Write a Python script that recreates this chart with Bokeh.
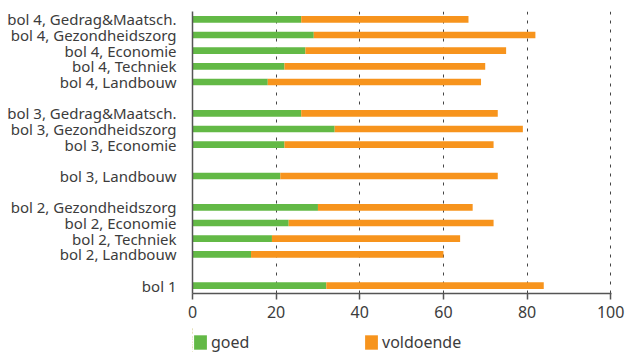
from bokeh.plotting import figure
from bokeh.models import ColumnDataSource, FactorRange, Range1d, FixedTicker, Legend, LegendItem
from bokeh.layouts import column
from bokeh.embed import file_html
from bokeh.resources import INLINE

# categories from top to bottom ("" = empty slot)
categories = [
    "bol 4, Gedrag&Maatsch.", "bol 4, Gezondheidszorg", "bol 4, Economie",
    "bol 4, Techniek", "bol 4, Landbouw", "",
    "bol 3, Gedrag&Maatsch.", "bol 3, Gezondheidszorg", "bol 3, Economie",
    "", "bol 3, Landbouw", "",
    "bol 2, Gezondheidszorg", "bol 2, Economie", "bol 2, Techniek",
    "bol 2, Landbouw", "", "bol 1",
]
goed = [26, 29, 27, 22, 18, None, 26, 34, 22, None, 21, None, 30, 23, 19, 14, None, 32]
voldoende = [40, 53, 48, 48, 51, None, 47, 45, 50, None, 52, None, 37, 49, 45, 46, None, 52]
series = ["goed", "voldoende"]
x_ticks = [0, 20, 40, 60, 80, 100]

GREEN = "#63b946"
ORANGE = "#f7941d"
TEXT = "#3c3c3c"
FONT = "Noto Sans"

# unique factor names (blank slots become strings of spaces)
factors = []
blank = 0
for c in categories:
    if c == "":
        blank += 1
        factors.append(" " * blank)
    else:
        factors.append(c)

rows = [i for i, g in enumerate(goed) if g is not None]
source = ColumnDataSource(dict(
    cat=[factors[i] for i in rows],
    goed=[goed[i] for i in rows],
    voldoende=[voldoende[i] for i in rows],
))

p = figure(
    width=628, height=327,
    y_range=FactorRange(factors=list(reversed(factors))),
    x_range=Range1d(0, 100.2),
    output_backend="svg", toolbar_location=None,
    min_border_left=192, min_border_right=17, min_border_top=11, min_border_bottom=34,
)
p.outline_line_color = None
p.background_fill_color = "white"
p.border_fill_color = "white"

rs = p.hbar_stack(series, y="cat", height=0.43,
                  color=[GREEN, ORANGE], line_color=None, source=source)

# axes
p.xaxis.ticker = FixedTicker(ticks=x_ticks)
p.xaxis.axis_line_color = "#555555"
p.xaxis.axis_line_width = 1.5
p.xaxis.major_tick_line_color = "#555555"
p.xaxis.major_tick_line_width = 1.5
p.xaxis.major_tick_out = 6
p.xaxis.major_tick_in = 0
p.xaxis.minor_tick_line_color = None
p.xaxis.major_label_text_font = FONT
p.xaxis.major_label_text_font_size = "16px"
p.xaxis.major_label_text_color = TEXT
p.xaxis.major_label_standoff = 6

p.yaxis.axis_line_color = "#555555"
p.yaxis.axis_line_width = 1.5
p.yaxis.major_tick_line_color = None
p.yaxis.minor_tick_line_color = None
p.yaxis.major_label_text_font = FONT
p.yaxis.major_label_text_font_size = "15px"
p.yaxis.major_label_text_color = TEXT
p.yaxis.major_label_standoff = 10

p.ygrid.grid_line_color = None
p.xgrid.ticker = FixedTicker(ticks=x_ticks[1:])
p.xgrid.grid_line_color = "#444444"
p.xgrid.grid_line_dash = "3 6"
p.xgrid.grid_line_width = 1

# legend strip below the chart: same series, drawn outside its visible x range
lg = figure(width=628, height=25, output_backend="svg", toolbar_location=None,
            x_range=Range1d(1000, 1001),
            y_range=FactorRange(factors=list(reversed(factors))),
            min_border_left=192, min_border_right=17, min_border_top=0, min_border_bottom=0)
lg.axis.visible = False
lg.grid.visible = False
lg.outline_line_color = None
lrs = lg.hbar_stack(series, y="cat", height=0.43, color=[GREEN, ORANGE],
                    line_color=None, source=source)
legend = Legend(
    items=[LegendItem(label=s, renderers=[r]) for s, r in zip(series, lrs)],
    orientation="horizontal", location=(0, -1),
    margin=0, padding=0, border_line_color=None, background_fill_alpha=0,
    glyph_width=16, glyph_height=18, label_standoff=3, label_width=150, spacing=2,
    label_text_font=FONT, label_text_font_size="16px", label_text_color=TEXT,
)
lg.add_layout(legend, "center")

layout = column(p, lg, spacing=0)
open("out.html", "w").write(file_html(layout, INLINE))
